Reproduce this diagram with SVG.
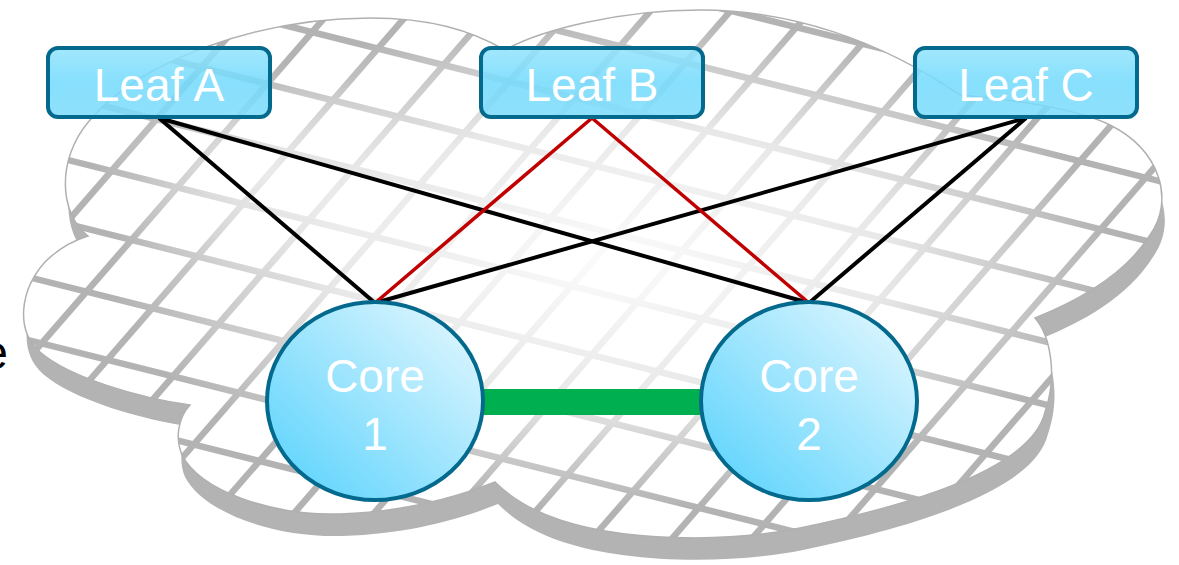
<svg xmlns="http://www.w3.org/2000/svg" width="1179" height="565" viewBox="0 0 1179 565">
<defs>
<style>
.lbl{font-family:"Liberation Sans",Arial,sans-serif;font-size:46px;fill:#ffffff;text-anchor:middle}
.leaf{fill:url(#leafGrad);stroke:#03698d;stroke-width:4;fill-opacity:0.86}
.core{fill:url(#coreGrad);stroke:#03698d;stroke-width:4}
.grid line{stroke:#b3b3b3;stroke-width:6.5}
.blk{stroke:#000000;stroke-width:4;fill:none}
.red{stroke:#c00000;stroke-width:3.5;fill:none}
</style>
<path id="cloudPath" d="M88,236 C60,215 55,160 90,120 C140,60 260,18 370,18 C430,18 470,30 505,50 C540,30 620,10 700,10 C790,10 880,40 960,95 C1020,100 1080,110 1110,125 C1160,150 1175,200 1150,235 C1125,275 1080,300 1035,318 C1050,335 1058,375 1045,412 C1035,455 960,495 800,528 C720,544 620,540 560,520 C530,510 510,497 495,482 C450,500 400,512 340,514 C270,516 200,490 182,455 C175,438 178,418 190,405 C140,398 70,378 40,352 C15,330 20,290 45,262 C60,247 75,240 88,236 Z"/>
<clipPath id="cloudClip"><use href="#cloudPath"/></clipPath>
<linearGradient id="leafGrad" x1="0" y1="0" x2="0" y2="1">
<stop offset="0" stop-color="#92e4fd"/>
<stop offset="0.5" stop-color="#72dafc"/>
<stop offset="1" stop-color="#7ddcfb"/>
</linearGradient>
<linearGradient id="coreGrad" x1="0.15" y1="0.85" x2="0.85" y2="0.15">
<stop offset="0" stop-color="#6ad7fd"/>
<stop offset="1" stop-color="#d3f3fe"/>
</linearGradient>
<radialGradient id="fade" cx="610" cy="260" r="1" gradientUnits="userSpaceOnUse" gradientTransform="translate(610 260) scale(500 250) translate(-610 -260)">
<stop offset="0" stop-color="#ffffff" stop-opacity="0.95"/>
<stop offset="0.55" stop-color="#ffffff" stop-opacity="0.7"/>
<stop offset="1" stop-color="#ffffff" stop-opacity="0"/>
</radialGradient>
<radialGradient id="fade2" cx="260" cy="170" r="1" gradientUnits="userSpaceOnUse" gradientTransform="translate(260 170) scale(170 110) translate(-260 -170)">
<stop offset="0" stop-color="#ffffff" stop-opacity="0.6"/>
<stop offset="1" stop-color="#ffffff" stop-opacity="0"/>
</radialGradient>
</defs>
<rect width="1179" height="565" fill="#ffffff"/>
<g id="cloud">
<use href="#cloudPath" fill="#b3b3b3" transform="translate(3,22)"/>
<use href="#cloudPath" fill="#ffffff"/>
<g class="grid" clip-path="url(#cloudClip)">
<line x1="0" y1="-172" x2="1179" y2="123"/>
<line x1="0" y1="-109" x2="1179" y2="186"/>
<line x1="0" y1="-46" x2="1179" y2="249"/>
<line x1="0" y1="17" x2="1179" y2="312"/>
<line x1="0" y1="80" x2="1179" y2="375"/>
<line x1="0" y1="143" x2="1179" y2="438"/>
<line x1="0" y1="207" x2="1179" y2="502"/>
<line x1="0" y1="270" x2="1179" y2="565"/>
<line x1="0" y1="333" x2="1179" y2="628"/>
<line x1="0" y1="396" x2="1179" y2="691"/>
<line x1="0" y1="459" x2="1179" y2="754"/>
<line x1="180" y1="0" x2="-311" y2="565"/>
<line x1="260" y1="0" x2="-231" y2="565"/>
<line x1="340" y1="0" x2="-151" y2="565"/>
<line x1="420" y1="0" x2="-71" y2="565"/>
<line x1="500" y1="0" x2="9" y2="565"/>
<line x1="580" y1="0" x2="89" y2="565"/>
<line x1="660" y1="0" x2="169" y2="565"/>
<line x1="740" y1="0" x2="249" y2="565"/>
<line x1="820" y1="0" x2="329" y2="565"/>
<line x1="900" y1="0" x2="409" y2="565"/>
<line x1="980" y1="0" x2="489" y2="565"/>
<line x1="1060" y1="0" x2="569" y2="565"/>
<line x1="1140" y1="0" x2="649" y2="565"/>
<line x1="1220" y1="0" x2="729" y2="565"/>
<line x1="1300" y1="0" x2="809" y2="565"/>
<line x1="1380" y1="0" x2="889" y2="565"/>
<line x1="1460" y1="0" x2="969" y2="565"/>
<line x1="1540" y1="0" x2="1049" y2="565"/>
</g>
<use href="#cloudPath" fill="url(#fade)"/>
<use href="#cloudPath" fill="url(#fade2)"/>
<use href="#cloudPath" fill="none" stroke="#b0b0b0" stroke-width="1.5"/>
</g>
<text x="8" y="369" font-family="'Liberation Sans',Arial,sans-serif" font-size="48" fill="#000000" text-anchor="end">e</text>
<g id="connectors">
<line x1="470" y1="402" x2="712" y2="402" stroke="#00b050" stroke-width="26"/>
<line class="blk" x1="159" y1="118" x2="375" y2="303"/>
<line class="blk" x1="159" y1="118" x2="809" y2="303"/>
<line class="blk" x1="1026" y1="118" x2="375" y2="303"/>
<line class="blk" x1="1026" y1="118" x2="809" y2="303"/>
<line class="red" x1="592" y1="118" x2="375" y2="303"/>
<line class="red" x1="592" y1="118" x2="809" y2="303"/>
</g>
<g id="core1">
<ellipse class="core" cx="375" cy="401" rx="108" ry="99"/>
<text class="lbl" x="375" y="392">Core</text>
<text class="lbl" x="375" y="450">1</text>
</g>
<g id="core2">
<ellipse class="core" cx="809" cy="401" rx="108" ry="99"/>
<text class="lbl" x="809" y="392">Core</text>
<text class="lbl" x="809" y="450">2</text>
</g>
<g id="leafA">
<rect class="leaf" x="48" y="48" width="222" height="69" rx="10"/>
<text class="lbl" x="159" y="101">Leaf A</text>
</g>
<g id="leafB">
<rect class="leaf" x="481" y="48" width="222" height="69" rx="10"/>
<text class="lbl" x="592" y="101">Leaf B</text>
</g>
<g id="leafC">
<rect class="leaf" x="915" y="48" width="222" height="69" rx="10"/>
<text class="lbl" x="1026" y="101">Leaf C</text>
</g>
</svg>
